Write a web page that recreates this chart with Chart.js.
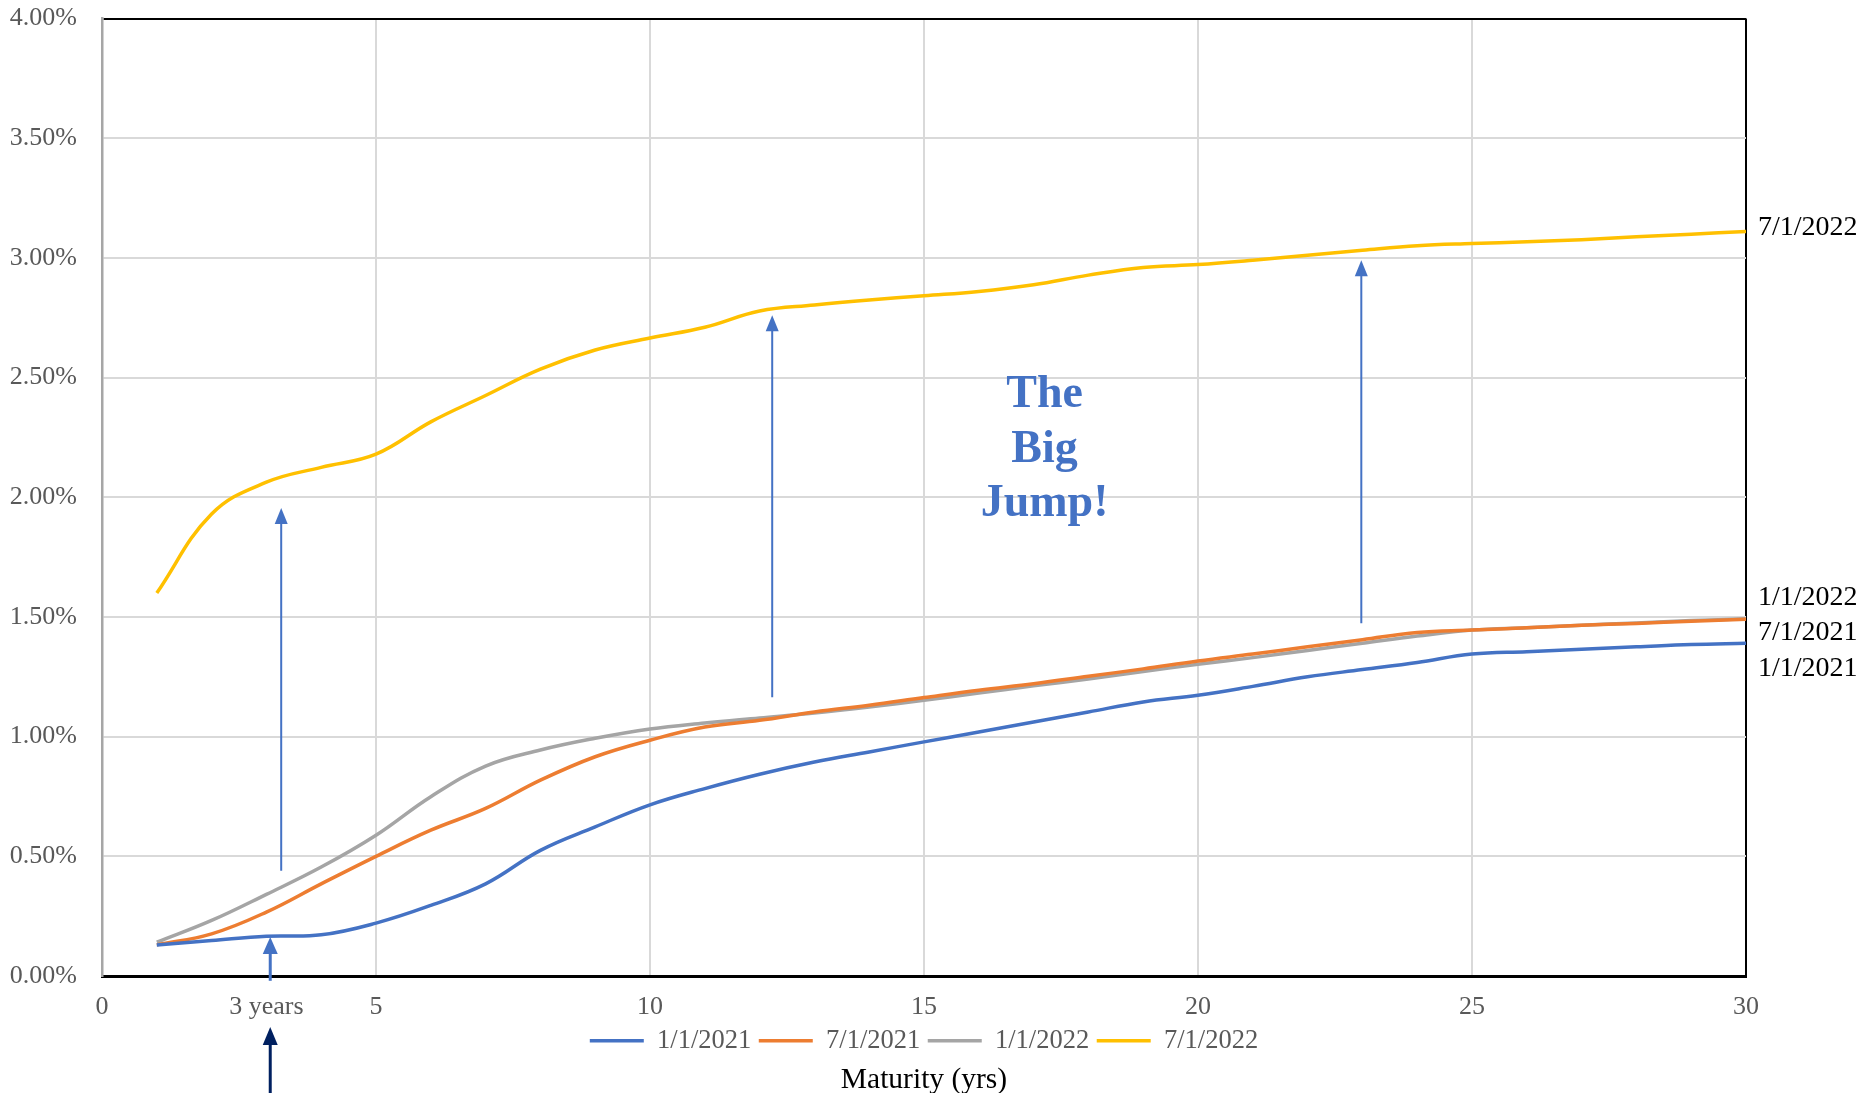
<!DOCTYPE html>
<html>
<head>
<meta charset="utf-8">
<title>Treasury Yield Curves</title>
<script src="https://cdn.jsdelivr.net/npm/chart.js@4/dist/chart.umd.min.js"></script>
<style>
  html, body { margin: 0; padding: 0; background: #ffffff; }
  #wrap { width: 1876px; height: 1093px; }
</style>
</head>
<body>
<div id="wrap"><canvas id="curves" width="1876" height="1093"></canvas></div>
<script>
// Maturities in years
const maturities = [1, 2, 3, 4, 5, 6, 7, 8, 9, 10, 11, 12, 13, 14, 15,
                    16, 17, 18, 19, 20, 21, 22, 23, 24, 25, 26, 27, 28, 29, 30];

// Yields in percent, one list per curve date
const yieldsJan2021 = [0.13, 0.148, 0.166, 0.172, 0.221, 0.295, 0.385, 0.525, 0.623, 0.715,
                       0.783, 0.843, 0.894, 0.936, 0.978, 1.019, 1.061, 1.103, 1.145, 1.173,
                       1.21, 1.25, 1.28, 1.31, 1.345, 1.355, 1.365, 1.375, 1.385, 1.39];
const yieldsJul2021 = [0.13, 0.176, 0.267, 0.385, 0.50, 0.609, 0.70, 0.818, 0.916, 0.985,
                       1.04, 1.068, 1.103, 1.131, 1.163, 1.194, 1.221, 1.252, 1.283, 1.316,
                       1.345, 1.375, 1.405, 1.435, 1.445, 1.455, 1.465, 1.473, 1.482, 1.49];
const yieldsJan2022 = [0.141, 0.232, 0.341, 0.455, 0.588, 0.749, 0.877, 0.944, 0.993, 1.032,
                       1.057, 1.078, 1.099, 1.124, 1.152, 1.182, 1.212, 1.241, 1.272, 1.302,
                       1.33, 1.36, 1.39, 1.42, 1.445, 1.455, 1.465, 1.475, 1.485, 1.492];
const yieldsJul2022 = [1.60, 1.93, 2.063, 2.125, 2.18, 2.315, 2.425, 2.535, 2.615, 2.665,
                       2.71, 2.778, 2.803, 2.824, 2.842, 2.86, 2.888, 2.928, 2.96, 2.972,
                       2.99, 3.011, 3.032, 3.051, 3.06, 3.067, 3.076, 3.088, 3.099, 3.11];

const seriesLabels = ['1/1/2021', '7/1/2021', '1/1/2022', '7/1/2022'];
const seriesValues = [yieldsJan2021, yieldsJul2021, yieldsJan2022, yieldsJul2022];

// Axis ticks
const xTickValues = [0, 3, 5, 10, 15, 20, 25, 30];
const xTickLabels = ['0', '3 years', '5', '10', '15', '20', '25', '30'];
const yTickStep = 0.5;

// Callout text
const calloutLines = ['The', 'Big', 'Jump!'];

// ---- styling ----
const SERIF = '"Liberation Serif", "Times New Roman", Times, serif';
const seriesColors = ['#4472C4', '#ED7D31', '#A5A5A5', '#FFC000'];
const endLabelOffsets = [25.5, 13.5, -21.5, -4];   // px nudges for the right-hand series names
const ARROW_BLUE = '#4472C4';
const ARROW_NAVY = '#002060';

// arrows in axis units (x in years, y in percent)
const jumpArrows = [
  { x: 3.27,  from: 0.44,  to: 1.955, width: 2,   headW: 13, headH: 16 },
  { x: 12.23, from: 1.165, to: 2.76,  width: 2,   headW: 13, headH: 16 },
  { x: 22.98, from: 1.474, to: 2.99,  width: 2,   headW: 13, headH: 16 },
  { x: 3.07,  from: -0.02, to: 0.163, width: 3,   headW: 15, headH: 17 }
];

function drawArrow(ctx, x, yFrom, yTo, color, width, headW, headH) {
  ctx.save();
  ctx.strokeStyle = color;
  ctx.fillStyle = color;
  ctx.lineWidth = width;
  ctx.beginPath();
  ctx.moveTo(x, yFrom);
  ctx.lineTo(x, yTo + headH - 1);
  ctx.stroke();
  ctx.beginPath();
  ctx.moveTo(x, yTo);
  ctx.lineTo(x - headW / 2, yTo + headH);
  ctx.lineTo(x + headW / 2, yTo + headH);
  ctx.closePath();
  ctx.fill();
  ctx.restore();
}

const annotationsPlugin = {
  id: 'curveNotes',
  afterDatasetsDraw(chart) {
    const { ctx, chartArea } = chart;
    const xs = chart.scales.x, ys = chart.scales.y;

    // upward arrows
    jumpArrows.forEach(a => {
      drawArrow(ctx, xs.getPixelForValue(a.x), ys.getPixelForValue(a.from),
                ys.getPixelForValue(a.to), ARROW_BLUE, a.width, a.headW, a.headH);
    });
    // dark arrow under the "3 years" label
    drawArrow(ctx, xs.getPixelForValue(3.07), chart.height + 2, chartArea.bottom + 51,
              ARROW_NAVY, 3, 15, 18);

    // "The Big Jump!" callout
    ctx.save();
    ctx.fillStyle = ARROW_BLUE;
    ctx.font = 'bold 46px ' + SERIF;
    ctx.textAlign = 'center';
    ctx.textBaseline = 'middle';
    const cx = xs.getPixelForValue(17.2);
    const cy = ys.getPixelForValue(2.197);
    calloutLines.forEach((t, i) => ctx.fillText(t, cx, cy + (i - 1) * 54.5));
    ctx.restore();

    // series names at the right end of each curve
    ctx.save();
    ctx.fillStyle = '#000000';
    ctx.font = '28px ' + SERIF;
    ctx.textAlign = 'left';
    ctx.textBaseline = 'middle';
    chart.data.datasets.forEach((ds, i) => {
      const last = ds.data[ds.data.length - 1];
      const py = ys.getPixelForValue(last.y) + endLabelOffsets[i];
      ctx.fillText(ds.label, chartArea.right + 12, py);
    });
    ctx.restore();
  }
};

const datasets = seriesLabels.map((label, i) => ({
  label,
  data: maturities.map((m, j) => ({ x: m, y: seriesValues[i][j] })),
  borderColor: seriesColors[i],
  backgroundColor: seriesColors[i],
  borderWidth: 3.5,
  pointRadius: 0,
  tension: 0.4,
  fill: false
}));

new Chart(document.getElementById('curves'), {
  type: 'line',
  data: { datasets },
  options: {
    responsive: false,
    animation: false,
    layout: { padding: { left: 0, right: 130, top: 18.5, bottom: 0 } },
    scales: {
      x: {
        type: 'linear',
        min: 0,
        max: 30,
        afterBuildTicks: s => { s.ticks = xTickValues.map(v => ({ value: v })); },
        afterFit: s => { s.height = 44; },
        ticks: {
          autoSkip: false,
          maxRotation: 0,
          padding: 16,
          color: '#595959',
          font: { family: SERIF, size: 26 },
          callback: (v, i) => xTickLabels[i]
        },
        grid: {
          drawTicks: false,
          lineWidth: 2,
          color: c => {
            const v = c.tick ? c.tick.value : null;
            if (v === 30) return '#000000';
            if (v === 3) return 'rgba(0,0,0,0)';
            if (v === 0) return '#a6a6a6';
            return '#d9d9d9';
          }
        },
        border: { color: '#000000', width: 3 }
      },
      y: {
        min: 0,
        max: 4,
        afterFit: s => { s.width = 102; s.paddingTop = 0; s.paddingBottom = 0; },
        ticks: {
          stepSize: yTickStep,
          padding: 25,
          color: '#595959',
          font: { family: SERIF, size: 26 },
          callback: v => Number(v).toFixed(2) + '%'
        },
        grid: {
          drawTicks: false,
          lineWidth: 2,
          color: c => {
            const v = c.tick ? c.tick.value : null;
            if (v === 4 || v === 0) return '#000000';
            return '#d9d9d9';
          }
        },
        border: { color: '#a6a6a6', width: 2.5 }
      }
    },
    plugins: {
      legend: {
        position: 'bottom',
        fullSize: false,
        labels: {
          usePointStyle: true,
          pointStyle: 'line',
          pointStyleWidth: 54,
          padding: 7.5,
          color: '#595959',
          font: { family: SERIF, size: 26.5 }
        }
      },
      title: {
        display: true,
        position: 'bottom',
        fullSize: false,
        text: 'Maturity (yrs)',
        color: '#000000',
        font: { family: SERIF, size: 29.5, weight: 'normal' },
        padding: { top: -1.7, bottom: -4.7 }
      },
      tooltip: { enabled: false }
    }
  },
  plugins: [annotationsPlugin]
});
</script>
</body>
</html>
